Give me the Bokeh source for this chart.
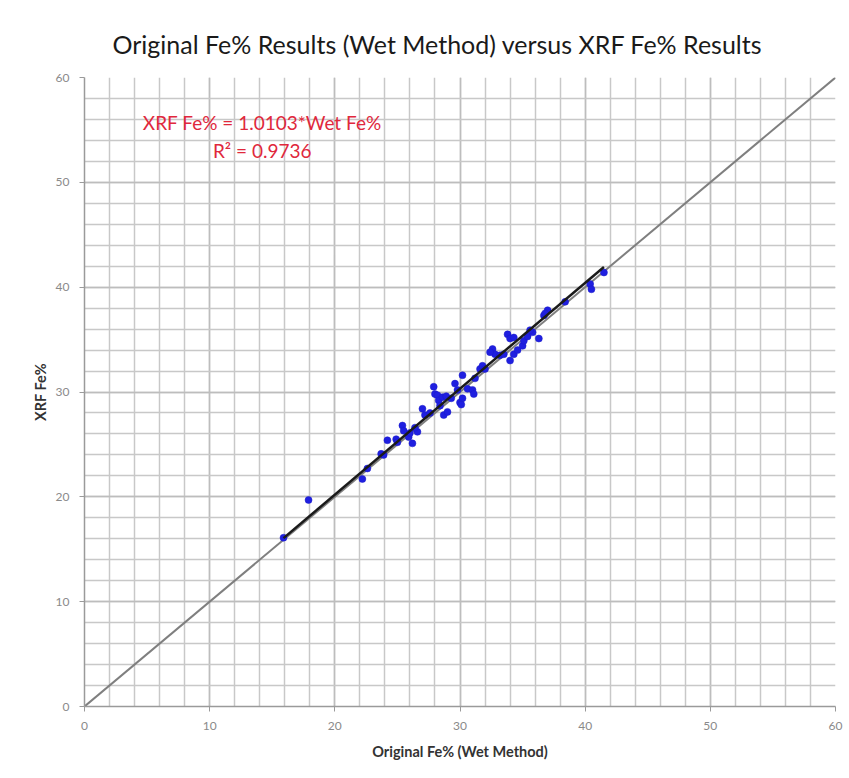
from bokeh.plotting import figure
from bokeh.models import Label, Range1d, FixedTicker, Title
from bokeh.embed import file_html
from bokeh.resources import INLINE

# Paired Fe% assays: wet-chemistry result vs XRF result
wet_fe = [15.9, 17.9, 22.2, 22.6, 23.7, 23.9, 24.2, 24.9, 25.0, 25.4,
          25.5, 25.9, 26.2, 26.0, 26.6, 26.4, 27.0, 27.2, 27.6, 27.9,
          28.0, 28.2, 28.3, 28.4, 28.6, 28.7, 29.0, 28.9, 29.3, 29.6,
          29.8, 30.0, 30.2, 30.2, 30.1, 30.6, 31.0, 31.1, 31.2, 31.6,
          31.8, 32.0, 32.6, 32.8, 32.4, 33.2, 33.5, 33.8, 34.0, 34.0,
          34.3, 34.3, 34.6, 35.0, 35.1, 35.4, 35.8, 35.6, 36.3, 36.7,
          37.0, 36.8, 38.4, 40.4, 40.5, 41.5]
xrf_fe = [16.1, 19.7, 21.7, 22.7, 24.1, 24.0, 25.4, 25.5, 25.2, 26.8,
          26.3, 25.7, 25.1, 26.1, 26.2, 26.6, 28.4, 27.8, 28.0, 30.5,
          29.8, 29.7, 29.2, 28.7, 29.5, 27.8, 28.1, 29.6, 29.4, 30.8,
          30.2, 29.0, 31.6, 29.4, 28.8, 30.3, 30.2, 29.8, 31.3, 32.2,
          32.5, 32.2, 34.1, 33.6, 33.8, 33.5, 33.6, 35.5, 35.1, 33.0,
          35.2, 33.6, 34.0, 34.4, 34.9, 35.3, 35.7, 35.9, 35.1, 37.3,
          37.8, 37.5, 38.6, 40.3, 39.8, 41.4]

slope = 1.0103
r_squared = 0.9736
axis_min, axis_max = 0, 60
major_ticks = [0, 10, 20, 30, 40, 50, 60]

FONT = "Lato"

p = figure(width=849, height=778, output_backend="svg", toolbar_location=None,
           x_range=Range1d(axis_min, axis_max), y_range=Range1d(axis_min, axis_max),
           min_border_left=84, min_border_right=14, min_border_top=77,
           min_border_bottom=72)
p.title = Title(text="Original Fe% Results (Wet Method) versus XRF Fe% Results",
                align="left", offset=28, text_font=FONT, text_font_size="25px",
                text_font_style="normal", text_color="#1a1a1a", standoff=38)
p.outline_line_color = None
p.background_fill_color = "white"
p.border_fill_color = "white"

# grid: major every 10, minor every 2
for ax in (p.xaxis, p.yaxis):
    ax.ticker = FixedTicker(ticks=major_ticks,
                            minor_ticks=list(range(axis_min, axis_max + 1, 2)))
    ax.axis_line_color = "#9a9a9a"
    ax.axis_line_width = 1.5
    ax.major_tick_line_color = "#9a9a9a"
    ax.major_tick_in = 0
    ax.major_tick_out = 5
    ax.minor_tick_line_color = None
    ax.major_label_text_color = "#8a8a8a"
    ax.major_label_text_font = FONT
    ax.major_label_text_font_size = "12px"
    ax.axis_label_text_font = FONT
    ax.axis_label_text_font_size = "14.5px"
    ax.axis_label_text_font_style = "bold"
    ax.axis_label_text_color = "#333333"

p.xaxis.axis_label = "Original Fe% (Wet Method)"
p.yaxis.axis_label = "XRF Fe%"
p.xaxis.major_label_standoff = 10
p.yaxis.major_label_standoff = 10
p.xaxis.axis_label_standoff = 10
p.yaxis.axis_label_standoff = 4

for g in (p.xgrid, p.ygrid):
    g.grid_line_color = "#bdbdbd"
    g.grid_line_width = 1.5
    g.minor_grid_line_color = "#c8c8c8"
    g.minor_grid_line_width = 1.5

# 1:1 reference line
p.line([axis_min, axis_max], [axis_min, axis_max], line_color="#7f7f7f", line_width=2)

# data points
p.scatter(wet_fe, xrf_fe, size=7, marker="circle", fill_color="#1f1fe0",
          line_color="#1a1ac8", line_width=0.5)

# regression through origin
x_lo, x_hi = min(wet_fe), max(wet_fe)
p.line([x_lo, x_hi], [slope * x_lo, slope * x_hi], line_color="#1a1a1a", line_width=2.5)

red = "#e0283c"
p.add_layout(Label(x=14.2, y=55.7, text=f"XRF Fe% = {slope:.4f}*Wet Fe%",
                   text_font=FONT, text_font_size="19px", text_color=red,
                   text_align="center", text_baseline="middle"))
p.add_layout(Label(x=14.2, y=53.0, text=f"R² = {r_squared:.4f}",
                   text_font=FONT, text_font_size="19px", text_color=red,
                   text_align="center", text_baseline="middle"))

open("out.html", "w").write(file_html(p, INLINE))
